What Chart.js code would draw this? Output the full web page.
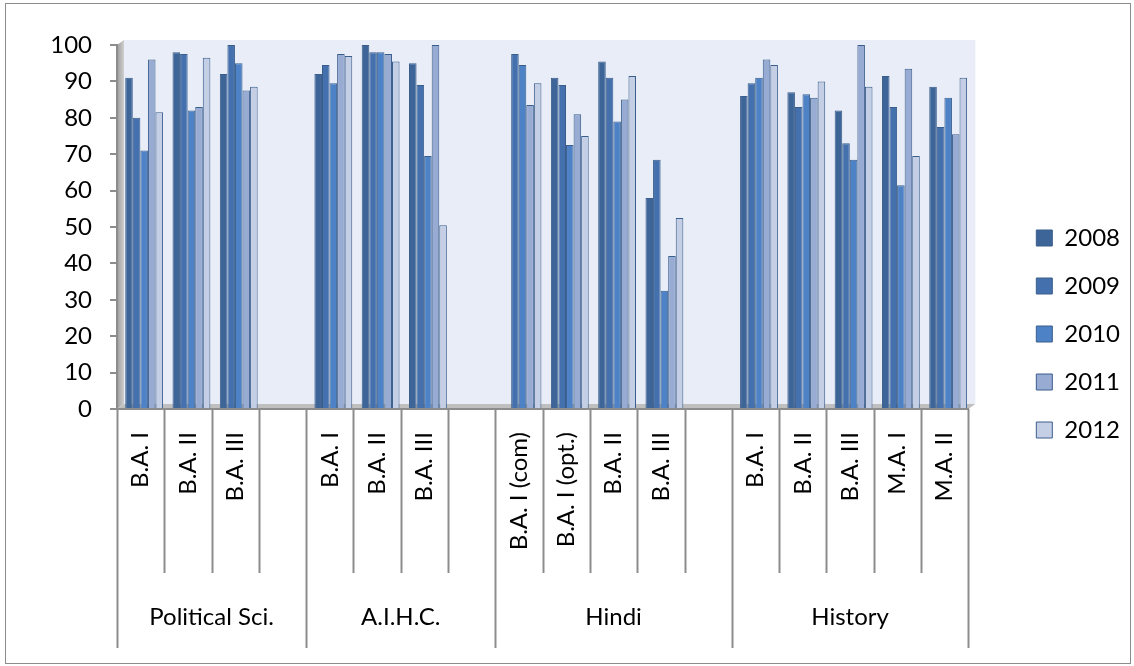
<!DOCTYPE html>
<html>
<head>
<meta charset="utf-8">
<script src="https://cdn.jsdelivr.net/npm/chart.js@4"></script>
<style>
  html, body { margin: 0; padding: 0; background: #fff; }
  #wrap { width: 1134px; height: 666px; position: relative; }
</style>
</head>
<body>
<div id="wrap"><canvas id="chart"></canvas></div>
<script>
// category labels (blank slots separate the subject groups)
const classLabels = [
    'B.A. I', 'B.A. II', 'B.A. III', '',
    'B.A. I', 'B.A. II', 'B.A. III', '',
    'B.A. I (com)', 'B.A. I (opt.)', 'B.A. II', 'B.A. III', '',
    'B.A. I', 'B.A. II', 'B.A. III', 'M.A. I', 'M.A. II'
];
const groupNames = ['Political Sci.', 'A.I.H.C.', 'Hindi', 'History'];
const groupSizes = [4, 4, 5, 5];

const years = ['2008', '2009', '2010', '2011', '2012'];
const res2008 = [91, 98, 92, null, 92, 100, 95, null, null, 91, 95.5, 58, null, 86, 87, 82, 91.5, 88.5];
const res2009 = [80, 97.5, 100, null, 94.5, 98, 89, null, 97.5, 89, 91, 68.5, null, 89.5, 83, 73, 83, 77.5];
const res2010 = [71, 82, 95, null, 89.5, 98, 69.5, null, 94.5, 72.5, 79, 32.5, null, 91, 86.5, 68.5, 61.5, 85.5];
const res2011 = [96, 83, 87.5, null, 97.5, 97.5, 100, null, 83.5, 81, 85, 42, null, 96, 85.5, 100, 93.5, 75.5];
const res2012 = [81.5, 96.5, 88.5, null, 97, 95.5, 50.5, null, 89.5, 75, 91.5, 52.5, null, 94.5, 90, 88.5, 69.5, 91];
const yTicks = [0, 10, 20, 30, 40, 50, 60, 70, 80, 90, 100];

const fills = ['#3d6598', '#4471ad', '#4e82c6', '#98abd3', '#c4cfe6'];
const axisGray = '#8c8c8c';

Chart.defaults.font.family = 'Lato';
Chart.defaults.font.size = 24;
Chart.defaults.color = '#000';

// back wall, side wall and floor, plus the outer frame
const wallPlugin = {
    id: 'wall',
    beforeDraw(chart) {
        const {ctx, chartArea: a} = chart;
        const dx = 7, dy = 5;
        ctx.save();
        ctx.fillStyle = '#fff';
        ctx.fillRect(0, 0, chart.width, chart.height);
        ctx.strokeStyle = axisGray;
        ctx.lineWidth = 1;
        ctx.strokeRect(5.5, 3.5, chart.width - 9, chart.height - 6);

        ctx.fillStyle = '#e9edf7';
        ctx.fillRect(a.left + dx, a.top - dy, a.right - a.left, a.bottom - a.top);

        const g = ctx.createLinearGradient(a.left, 0, a.left + dx, 0);
        g.addColorStop(0, '#9c9c9c');
        g.addColorStop(1, '#cfcfcf');
        ctx.fillStyle = g;
        ctx.beginPath();
        ctx.moveTo(a.left, a.top);
        ctx.lineTo(a.left + dx, a.top - dy);
        ctx.lineTo(a.left + dx, a.bottom - dy);
        ctx.lineTo(a.left, a.bottom);
        ctx.closePath();
        ctx.fill();

        ctx.fillStyle = '#bfbfbf';
        ctx.beginPath();
        ctx.moveTo(a.left, a.bottom);
        ctx.lineTo(a.left + dx, a.bottom - dy);
        ctx.lineTo(a.right + dx, a.bottom - dy);
        ctx.lineTo(a.right, a.bottom);
        ctx.closePath();
        ctx.fill();
        ctx.restore();
    },
    // columns sit a little to the right of the slot centre (depth offset)
    beforeDatasetsDraw(chart) {
        chart.ctx.save();
        chart.ctx.translate(3.5, 0);
    },
    afterDatasetsDraw(chart) {
        chart.ctx.restore();
    }
};

// multi-level category axis: separators and group names
const groupAxisPlugin = {
    id: 'groupAxis',
    afterDraw(chart) {
        const {ctx, chartArea: a} = chart;
        const xs = chart.scales.x;
        const step = xs.getPixelForValue(1) - xs.getPixelForValue(0);
        const edge = i => xs.getPixelForValue(0) + (i - 0.5) * step;
        const groupEdges = [0];
        groupSizes.forEach(n => groupEdges.push(groupEdges[groupEdges.length - 1] + n));

        ctx.save();
        ctx.strokeStyle = axisGray;
        ctx.lineWidth = 2;
        for (let i = 0; i <= classLabels.length; i++) {
            const x = Math.round(edge(i)) + 0.5;
            const long = groupEdges.includes(i);
            ctx.beginPath();
            ctx.moveTo(x, a.bottom);
            ctx.lineTo(x, long ? a.bottom + 239 : a.bottom + 164);
            ctx.stroke();
        }
        ctx.fillStyle = '#000';
        ctx.font = '24px Lato';
        ctx.textAlign = 'center';
        ctx.textBaseline = 'middle';
        groupNames.forEach((name, g) => {
            const cx = (edge(groupEdges[g]) + edge(groupEdges[g + 1])) / 2;
            ctx.fillText(name, cx, a.bottom + 208);
        });
        ctx.restore();
    }
};

const seriesData = [res2008, res2009, res2010, res2011, res2012];

new Chart(document.getElementById('chart'), {
    type: 'bar',
    data: {
        labels: classLabels,
        datasets: years.map((yr, i) => ({
            label: yr,
            data: seriesData[i],
            backgroundColor: fills[i],
            borderColor: '#3a5e8c',
            borderWidth: 1,
            categoryPercentage: 0.8,
            barPercentage: 1.0
        }))
    },
    options: {
        responsive: true,
        maintainAspectRatio: false,
        animation: false,
        layout: { padding: { top: 45, left: 0, right: 4, bottom: 43 } },
        plugins: {
            legend: {
                position: 'right',
                labels: {
                    boxWidth: 16,
                    boxHeight: 16,
                    padding: 24,
                    font: { size: 24 }
                }
            },
            tooltip: { enabled: false }
        },
        scales: {
            x: {
                grid: { display: false, drawTicks: false },
                border: { color: axisGray, width: 2 },
                ticks: {
                    autoSkip: false,
                    minRotation: 90,
                    maxRotation: 90,
                    padding: 23,
                    font: { size: 24 }
                },
                afterFit: s => { s.height = 214; }
            },
            y: {
                min: 0,
                max: 100,
                afterBuildTicks: s => { s.ticks = yTicks.map(v => ({ value: v })); },
                grid: {
                    drawOnChartArea: false,
                    drawTicks: true,
                    tickLength: 7,
                    color: axisGray,
                    lineWidth: 2
                },
                border: { color: axisGray, width: 2 },
                ticks: { padding: 18, font: { size: 24 } },
                afterFit: s => { s.width = 117; }
            },
            gap: {
                type: 'linear',
                position: 'right',
                display: true,
                grid: { display: false },
                border: { display: false },
                ticks: { display: false },
                afterFit: s => { s.width = 44; }
            }
        }
    },
    plugins: [wallPlugin, groupAxisPlugin]
});
</script>
</body>
</html>
